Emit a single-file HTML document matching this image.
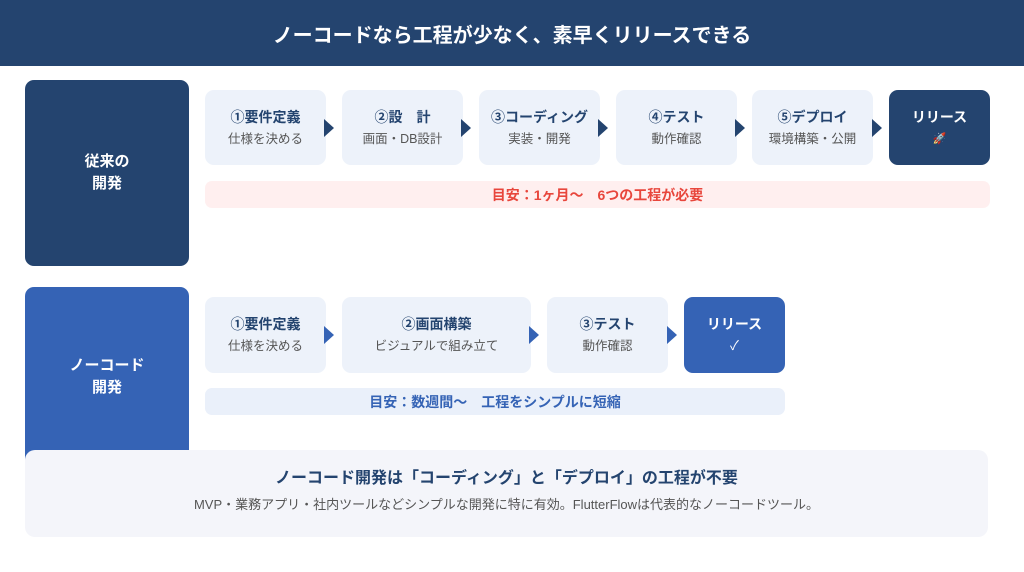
<!DOCTYPE html>
<html><head><meta charset="utf-8"><style>
*{margin:0;padding:0;box-sizing:border-box}
body{width:1024px;height:572px;background:#fff;position:relative;overflow:hidden;font-family:"Liberation Sans","Noto Sans CJK JP",sans-serif}
.a{position:absolute}
.hdr{left:0;top:0;width:1024px;height:66px;background:#24446f;color:#fff;font-weight:bold;font-size:20px;display:flex;align-items:center;justify-content:center}
.side{border-radius:9px;color:#fff;font-weight:bold;font-size:15px;display:flex;align-items:center;justify-content:center;text-align:center;line-height:22px}
.st{background:#edf2fa;border-radius:9px;text-align:center;display:flex;flex-direction:column;justify-content:center;align-items:center}
.st b{font-size:14px;color:#24446f;line-height:22px}
.st span{font-size:12.5px;color:#555;line-height:22px}
.rel{border-radius:9px;color:#fff;text-align:center;display:flex;flex-direction:column;justify-content:center}
.rel b{font-size:14px;line-height:22px}
.rel span{font-size:13px;line-height:22px}
.ar{width:0;height:0;border-top:9px solid transparent;border-bottom:9px solid transparent;border-left:10px solid #24446f}
.bar{border-radius:7px;font-weight:bold;font-size:14px;display:flex;align-items:center;justify-content:center}
</style></head><body>
<div class="a hdr">ノーコードなら工程が少なく、素早くリリースできる</div>

<div class="a side" style="left:25px;top:80px;width:164px;height:186px;background:#24446f">従来の<br>開発</div>
<div class="a st" style="left:205px;top:90px;width:121px;height:75px"><b>①要件定義</b><span>仕様を決める</span></div>
<div class="a ar" style="left:324px;top:119px"></div>
<div class="a st" style="left:342px;top:90px;width:121px;height:75px"><b>②設　計</b><span>画面・DB設計</span></div>
<div class="a ar" style="left:461px;top:119px"></div>
<div class="a st" style="left:479px;top:90px;width:121px;height:75px"><b>③コーディング</b><span>実装・開発</span></div>
<div class="a ar" style="left:598px;top:119px"></div>
<div class="a st" style="left:616px;top:90px;width:121px;height:75px"><b>④テスト</b><span>動作確認</span></div>
<div class="a ar" style="left:735px;top:119px"></div>
<div class="a st" style="left:752px;top:90px;width:121px;height:75px"><b>⑤デプロイ</b><span>環境構築・公開</span></div>
<div class="a ar" style="left:872px;top:119px"></div>
<div class="a rel" style="left:889px;top:90px;width:101px;height:75px;background:#24446f"><b>リリース</b><span style="font-size:11px">🚀</span></div>
<div class="a bar" style="left:205px;top:181px;width:785px;height:27px;background:#ffefef;color:#e8463c">目安：1ヶ月〜　6つの工程が必要</div>

<div class="a side" style="left:25px;top:287px;width:164px;height:180px;background:#3563b5">ノーコード<br>開発</div>
<div class="a st" style="left:205px;top:297px;width:121px;height:76px"><b>①要件定義</b><span>仕様を決める</span></div>
<div class="a ar" style="left:324px;top:326px;border-left-color:#3563b5"></div>
<div class="a st" style="left:342px;top:297px;width:189px;height:76px"><b>②画面構築</b><span>ビジュアルで組み立て</span></div>
<div class="a ar" style="left:529px;top:326px;border-left-color:#3563b5"></div>
<div class="a st" style="left:547px;top:297px;width:121px;height:76px"><b>③テスト</b><span>動作確認</span></div>
<div class="a ar" style="left:667px;top:326px;border-left-color:#3563b5"></div>
<div class="a rel" style="left:684px;top:297px;width:101px;height:76px;background:#3563b5"><b>リリース</b><span>✓</span></div>
<div class="a bar" style="left:205px;top:388px;width:580px;height:27px;background:#eaf0fa;color:#3563b5">目安：数週間〜　工程をシンプルに短縮</div>

<div class="a" style="left:25px;top:450px;width:963px;height:87px;background:#f4f5fa;border-radius:10px;text-align:center">
<div style="margin-top:18px;font-size:16px;font-weight:bold;color:#24446f;line-height:22px">ノーコード開発は「コーディング」と「デプロイ」の工程が不要</div>
<div style="margin-top:6px;font-size:13px;color:#555;line-height:18px">MVP・業務アプリ・社内ツールなどシンプルな開発に特に有効。FlutterFlowは代表的なノーコードツール。</div>
</div>
</body></html>
